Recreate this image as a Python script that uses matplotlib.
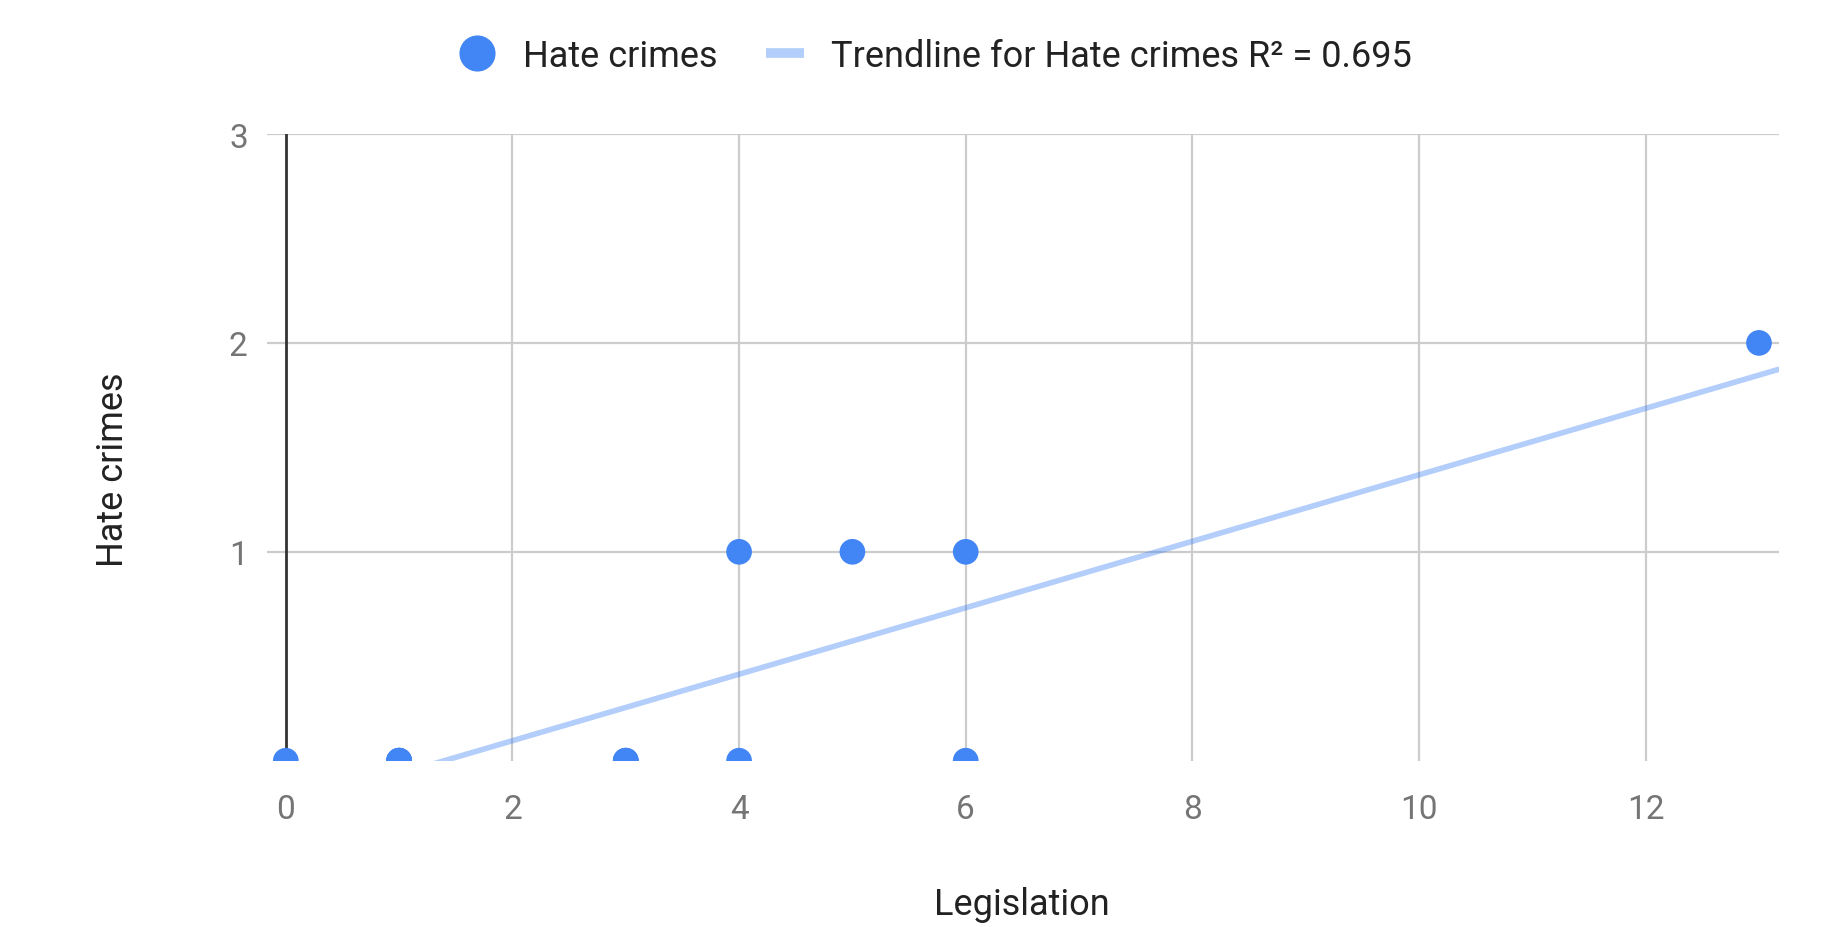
import numpy as np
import matplotlib
matplotlib.use("Agg")
from matplotlib import pyplot as plt
from matplotlib.lines import Line2D

plt.rcParams['font.family'] = ['Roboto', 'DejaVu Sans']

# legislation count vs hate crimes, one entry per observation
legislation = [0, 1, 1, 1, 1, 3, 3, 3, 4, 6, 4, 5, 6, 13]
hate_crimes = [0, 0, 0, 0, 0, 0, 0, 0, 0, 0, 1, 1, 1, 2]
x_ticks = [0, 2, 4, 6, 8, 10, 12]
y_ticks = [1, 2, 3]
trend_label = 'Trendline for Hate crimes R\u00b2 = 0.695'

blue = '#4285f4'
grid_gray = '#cccccc'
label_gray = '#757575'
text_dark = '#222222'

fig = plt.figure(figsize=(18.42, 9.28), dpi=100)
ax = fig.add_axes([0.145, 0.1792, 0.821, 0.6753])

x_lo, x_hi = -0.165, 13.18
ax.set_xlim(x_lo, x_hi)
ax.set_ylim(0, 3)

# gridlines
for xv in x_ticks[1:]:
    ax.axvline(xv, color=grid_gray, lw=1.6, zorder=0)
for yv in y_ticks:
    ax.axhline(yv, color=grid_gray, lw=1.6, zorder=0)
ax.axvline(0, color='#333333', lw=2.0, zorder=1)

# linear trendline fitted to the points
slope, intercept = np.polyfit(legislation, hate_crimes, 1)
tx = np.array([x_lo, x_hi])
ax.plot(tx, slope * tx + intercept, color=blue, alpha=0.4, lw=4,
        solid_capstyle='butt', zorder=2)

ax.scatter(legislation, hate_crimes, s=18.5 ** 2, color=blue,
           edgecolors='none', zorder=3)

for s in ax.spines.values():
    s.set_visible(False)
ax.set_xticks(x_ticks)
ax.set_yticks(y_ticks)
ax.tick_params(length=0, labelsize=24, colors=label_gray)
ax.tick_params(axis='x', pad=23)
ax.tick_params(axis='y', pad=14)

fig.text(1022 / 1842, 1 - 905 / 928, 'Legislation', fontsize=26,
         color=text_dark, ha='center', va='center')
fig.text(113 / 1842, 1 - 470 / 928, 'Hate crimes', fontsize=26,
         color=text_dark, ha='center', va='center', rotation=90)

handles = [
    Line2D([], [], marker='o', ms=25, color=blue, linestyle='none'),
    Line2D([], [], color=blue, alpha=0.4, lw=7, solid_capstyle='butt'),
]
fig.legend(handles, ['Hate crimes', trend_label], loc='center',
           bbox_to_anchor=(935 / 1842, 1 - 57 / 928), ncol=2,
           frameon=False, fontsize=26, handlelength=1.05,
           handletextpad=0.75, columnspacing=1.35, labelcolor=text_dark)

plt.savefig('out.png', dpi=100)
